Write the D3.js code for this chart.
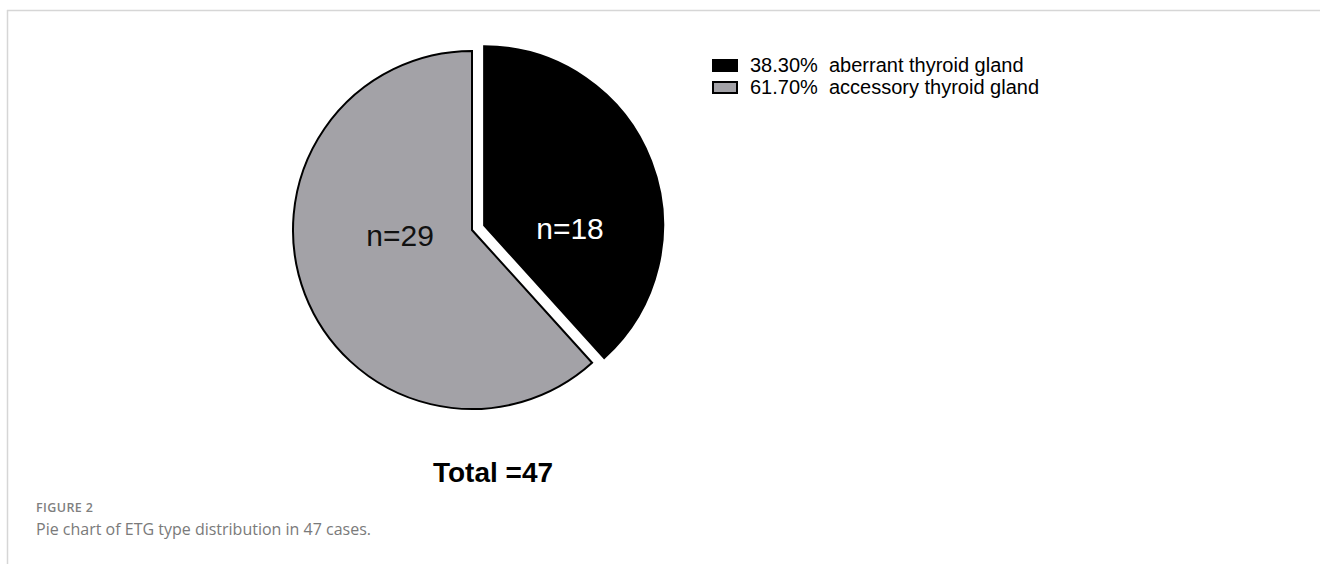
<!DOCTYPE html>
<html>
<head>
<meta charset="utf-8">
<script src="https://cdn.jsdelivr.net/npm/d3@7"></script>
<style>
  html, body { margin: 0; padding: 0; background: #fff; }
  svg { display: block; }
</style>
</head>
<body>
<div id="chart"></div>
<script>
// ETG type distribution
const categories = ['aberrant thyroid gland', 'accessory thyroid gland'];
const counts = [18, 29];
const percents = ['38.30%', '61.70%'];
const fills = ['#000000', '#a3a2a7'];
const labelColors = ['#ffffff', '#111111'];

const W = 1320, H = 564;
const svg = d3.select('#chart').append('svg')
  .attr('width', W)
  .attr('height', H);

// Frame lines (top + left)
svg.append('line')
  .attr('x1', 7).attr('x2', W).attr('y1', 10.5).attr('y2', 10.5)
  .attr('stroke', '#d6d6d6').attr('stroke-width', 1.5);
svg.append('line')
  .attr('x1', 7.5).attr('x2', 7.5).attr('y1', 10).attr('y2', H)
  .attr('stroke', '#d6d6d6').attr('stroke-width', 1.5);

// ============================================
// Pie
// ============================================
const cx = 472, cy = 230, r = 179, explode = 13;
// horizontal distance of each label from its slice centre
const labelDist = [92, 77];

const pie = d3.pie().sort(null).value(d => d);
const arcs = pie(counts);
const arc = d3.arc().innerRadius(0).outerRadius(r);

const g = svg.append('g').attr('transform', `translate(${cx},${cy})`);

const slices = g.selectAll('g.slice')
  .data(arcs)
  .join('g')
  .attr('class', 'slice')
  .attr('transform', (d, i) => {
    if (i !== 0) return null;
    const mid = (d.startAngle + d.endAngle) / 2;
    return `translate(${Math.sin(mid) * explode},${-Math.cos(mid) * explode})`;
  });

slices.append('path')
  .attr('d', arc)
  .attr('fill', (d, i) => fills[i])
  .attr('stroke', '#000')
  .attr('stroke-width', 2)
  .attr('stroke-linejoin', 'miter');

slices.append('text')
  .attr('x', (d, i) => Math.sin((d.startAngle + d.endAngle) / 2) * labelDist[i])
  .attr('y', (d, i) => i === 0 ? 3 : 5)
  .attr('text-anchor', 'middle')
  .attr('dy', '0.35em')
  .attr('font-family', 'Liberation Sans, Arial, sans-serif')
  .attr('font-size', 30)
  .attr('fill', (d, i) => labelColors[i])
  .text((d, i) => 'n=' + counts[i]);

// Total
svg.append('text')
  .attr('x', 493).attr('y', 482)
  .attr('text-anchor', 'middle')
  .attr('font-family', 'Liberation Sans, Arial, sans-serif')
  .attr('font-weight', 'bold')
  .attr('font-size', 28)
  .attr('fill', '#000')
  .text('Total =' + d3.sum(counts));

// ============================================
// Legend
// ============================================
const legend = svg.append('g').attr('transform', 'translate(712,57)');
const rows = legend.selectAll('g.row')
  .data(categories)
  .join('g')
  .attr('class', 'row')
  .attr('transform', (d, i) => `translate(0,${i * 22})`);

rows.append('rect')
  .attr('x', 1).attr('y', 3)
  .attr('width', 24).attr('height', 11)
  .attr('fill', (d, i) => fills[i])
  .attr('stroke', '#000')
  .attr('stroke-width', 2);

rows.append('text')
  .attr('x', 38).attr('y', 15)
  .attr('font-family', 'Liberation Sans, Arial, sans-serif')
  .attr('font-size', 20)
  .attr('fill', '#000')
  .attr('xml:space', 'preserve')
  .text((d, i) => percents[i] + '  ' + d);

// ============================================
// Caption
// ============================================
svg.append('text')
  .attr('x', 36).attr('y', 512)
  .attr('font-family', 'Open Sans, sans-serif')
  .attr('font-weight', 600)
  .attr('font-size', 12.5)
  .attr('letter-spacing', 0.4)
  .attr('fill', '#7f7f7f')
  .text('FIGURE 2');

svg.append('text')
  .attr('x', 36).attr('y', 535)
  .attr('font-family', 'Open Sans, sans-serif')
  .attr('font-size', 16)
  .attr('fill', '#7a7a7a')
  .text('Pie chart of ETG type distribution in 47 cases.');
</script>
</body>
</html>
